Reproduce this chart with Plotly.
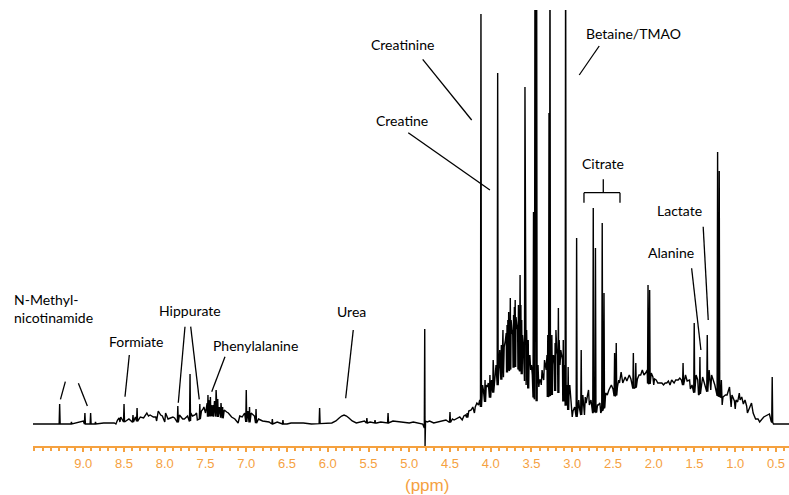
import numpy as np
import plotly.graph_objects as go

# ---------------- data ----------------
# broad baseline / envelope of the spectrum (ppm, intensity)
BASE_PPM = [9.62, 9.30, 9.00, 8.60, 8.55, 8.40, 8.30, 8.20, 8.10, 8.00, 7.90, 7.80,
            7.70, 7.60, 7.50, 7.40, 7.30, 7.20, 7.10, 7.00, 6.90, 6.80, 6.50, 6.20,
            5.95, 5.90, 5.86, 5.83, 5.80, 5.77, 5.74, 5.70, 5.65, 5.40, 5.00, 4.86,
            4.835, 4.815, 4.810, 4.806, 4.800, 4.78, 4.70, 4.55, 4.45, 4.35, 4.28,
            4.20, 4.13, 4.05, 4.00, 3.95, 3.89, 3.83, 3.77, 3.70, 3.65, 3.60, 3.55,
            3.48, 3.40, 3.35, 3.30, 3.25, 3.20, 3.15, 3.10, 3.05, 3.00, 2.95, 2.90,
            2.85, 2.80, 2.75, 2.70, 2.65, 2.60, 2.55, 2.50, 2.45, 2.40, 2.30, 2.20,
            2.10, 2.00, 1.90, 1.80, 1.70, 1.64, 1.55, 1.50, 1.45, 1.40, 1.35, 1.30,
            1.25, 1.18, 1.16, 1.10, 1.05, 1.00, 0.95, 0.90, 0.85, 0.80, 0.75, 0.70,
            0.65, 0.60, 0.56, 0.53, 0.34]
BASE_INT = [1, 1, 1, 1, 3, 3, 4, 3, 4, 3, 2, 3,
            4, 5, 8, 9, 7, 4, 2, 3, 2, 1, 1, 1,
            2, 4, 7, 9, 10, 9, 7, 4, 2, 2, 2, 2,
            1, -3, 96, -21, 4, 3, 2, 2, 3, 5, 8,
            12, 17, 25, 28, 35, 43, 50, 55, 58, 55, 48, 38,
            28, 20, 25, 28, 30, 35, 30, 22, 15, 8, 8, 10,
            10, 12, 12, 13, 12, 18, 25, 28, 30, 32, 35, 38,
            42, 40, 35, 36, 38, 40, 36, 32, 30, 33, 33, 35,
            30, 28, 20, 20, 18, 16, 14, 15, 12, 10, 6, 3,
            4, 6, 4, 1, 1]

# sharp resonances (ppm, apex intensity); values above the frame are clipped
PEAK_PPM = [9.29, 9.145, 8.98, 8.91, 8.85, 8.50, 8.39, 8.34, 7.84, 7.69, 7.57, 7.47,
            7.44, 7.41, 7.37, 7.35, 7.31, 7.29, 7.00, 6.96, 6.88, 6.68, 6.55, 6.10,
            5.52, 5.42, 5.26, 4.50, 4.29, 4.12, 4.07, 4.01, 3.97, 3.915, 3.87, 3.85,
            3.80, 3.78, 3.76, 3.72, 3.70, 3.66, 3.64, 3.62, 3.58, 3.56, 3.54, 3.475,
            3.457, 3.437, 3.30, 3.285, 3.273, 3.25, 3.21, 3.17, 3.11, 3.081, 3.05,
            2.946, 2.89, 2.742, 2.715, 2.632, 2.61, 2.48, 2.46, 2.25, 2.22, 2.07,
            2.05, 1.64, 1.503, 1.433, 1.343, 1.216, 1.196, 0.546]
PEAK_INT = [21, 3, 12, 12, 3, 21, 10, 17, 19, 51, 21, 30,
            28, 20, 35, 26, 22, 18, 35, 18, 16, 6, 5, 17,
            7, 5, 12, 13, 12, 411, 45, 50, 65, 352, 80, 95,
            100, 113, 127, 110, 125, 120, 150, 105, 338, 95, 85, 213,
            500, 500, 90, 312, 500, 90, 82, 117, 85, 500, 58,
            187, 75, 217, 177, 202, 132, 72, 82, 72, 62, 140,
            135, 62, 102, 68, 90, 273, 254, 48]

# small overlapping signals that make up the jagged texture of the trace
MINOR_PPM = [9.00, 8.75, 8.62, 8.58, 8.56, 8.54, 8.47, 8.44, 8.36, 8.30, 8.26, 8.22,
             8.20, 8.18, 8.14, 8.11, 8.08, 8.05, 8.03, 7.99, 7.96, 7.93, 7.90, 7.88,
             7.82, 7.80, 7.78, 7.76, 7.72, 7.68, 7.66, 7.63, 7.61, 7.55, 7.53, 7.52,
             7.50, 7.48, 7.46, 7.43, 7.39, 7.33, 7.27, 7.26, 7.24, 7.22, 7.20, 7.18,
             7.14, 7.08, 7.05, 7.02, 6.98, 6.94, 6.92, 6.90, 6.85, 6.80, 6.72, 6.62,
             6.45, 6.30, 5.55, 5.48, 5.35, 5.20, 5.10, 4.95, 4.75, 4.66, 4.60, 4.55,
             4.47, 4.45, 4.42, 4.40, 4.38, 4.33, 4.31, 4.27, 4.24, 4.22, 4.19, 4.17,
             4.15, 4.135, 4.10, 4.09, 4.055, 4.04, 4.03, 3.99, 3.965, 3.95, 3.935, 3.90,
             3.89, 3.875, 3.86, 3.835, 3.82, 3.81, 3.79, 3.77, 3.75, 3.74, 3.73, 3.71,
             3.69, 3.68, 3.67, 3.65, 3.63, 3.61, 3.60, 3.57, 3.55, 3.53, 3.52, 3.51,
             3.50, 3.49, 3.43, 3.42, 3.41, 3.40, 3.39, 3.38, 3.37, 3.36, 3.35, 3.34,
             3.33, 3.32, 3.31, 3.26, 3.24, 3.23, 3.22, 3.20, 3.19, 3.18, 3.16, 3.15,
             3.14, 3.13, 3.12, 3.10, 3.09, 3.06, 3.04, 3.03, 3.02, 2.99, 2.97, 2.93,
             2.92, 2.91, 2.87, 2.84, 2.83, 2.80, 2.79, 2.77, 2.76, 2.73, 2.69, 2.68,
             2.66, 2.59, 2.57, 2.55, 2.52, 2.50, 2.445, 2.43, 2.42, 2.40, 2.38, 2.35,
             2.33, 2.30, 2.28, 2.20, 2.18, 2.16, 2.14, 2.12, 2.10, 2.08, 2.03, 2.01,
             1.99, 1.97, 1.95, 1.92, 1.90, 1.88, 1.86, 1.84, 1.82, 1.80, 1.78, 1.75,
             1.73, 1.70, 1.68, 1.66, 1.61, 1.59, 1.56, 1.53, 1.48, 1.46, 1.40, 1.38,
             1.32, 1.31, 1.29, 1.27, 1.25, 1.17, 1.15, 1.12, 1.10, 1.07, 1.06, 1.04,
             1.01, 0.99, 0.97, 0.95, 0.94, 0.92, 0.90, 0.88, 0.86, 0.82, 0.80, 0.78,
             0.72, 0.65, 0.62, 0.60, 0.58]
MINOR_INT = [4, 2, 2, 5, 7, 8, 4, 6, 8, 8, 7, 12,
             9, 10, 8, 8, 14, 10, 9, 12, 6, 7, 8, 7,
             10, 8, 6, 6, 9, 12, 9, 10, 12, 14, 16, 18,
             12, 22, 25, 20, 24, 18, 15, 14, 13, 12, 10, 8,
             6, 9, 8, 12, 14, 12, 10, 9, 6, 4, 3, 3,
             2, 2, 4, 3, 3, 4, 3, 3, 4, 3, 4, 5,
             6, 5, 6, 7, 8, 9, 10, 14, 15, 18, 18, 22,
             20, 25, 40, 35, 40, 38, 42, 45, 55, 45, 60, 70,
             75, 65, 85, 78, 85, 92, 105, 98, 105, 95, 90, 118,
             108, 100, 95, 110, 120, 90, 80, 75, 70, 65, 70, 55,
             60, 50, 40, 60, 38, 45, 45, 40, 55, 48, 45, 65,
             60, 55, 70, 80, 65, 70, 60, 95, 75, 70, 85, 60,
             75, 70, 65, 55, 60, 40, 30, 40, 25, 14, 18, 20,
             25, 16, 30, 28, 22, 35, 20, 25, 20, 22, 20, 20,
             22, 32, 30, 35, 40, 36, 38, 45, 42, 53, 42, 48,
             44, 50, 46, 46, 50, 50, 55, 50, 52, 55, 52, 48,
             46, 45, 42, 42, 42, 40, 42, 42, 44, 40, 45, 42,
             45, 45, 47, 45, 50, 44, 45, 40, 50, 45, 48, 42,
             55, 45, 50, 45, 40, 45, 28, 30, 30, 38, 25, 30,
             24, 25, 23, 32, 25, 28, 21, 25, 19, 18, 22, 12,
             6, 8, 9, 10, 11]

TICK_VALUES = [9.0, 8.5, 8.0, 7.5, 7.0, 6.5, 6.0, 5.5, 5.0, 4.5, 4.0, 3.5, 3.0,
               2.5, 2.0, 1.5, 1.0, 0.5]

LABEL_TEXT = ["Creatinine", "Creatine", "Betaine/TMAO", "Citrate", "Lactate",
              "Alanine", "Urea", "Phenylalanine", "Hippurate", "Formiate"]

# ---------------- build the spectrum polyline ----------------
# sharp peaks get narrow feet on the local baseline; minor signals are joined
# directly vertex-to-vertex, giving the jagged texture of the trace.
HALF_W = 0.006
bp = np.array(BASE_PPM, float)
bi = np.array(BASE_INT, float)
pp = np.array(PEAK_PPM, float)
pi = np.array(PEAK_INT, float)
mp = np.array(MINOR_PPM, float)
mi = np.array(MINOR_INT, float)
order = np.argsort(bp)
allp = np.concatenate([pp, mp])
keep = np.array([np.all(np.abs(allp - v) > HALF_W * 1.2) or (4.79 < v < 4.84) for v in bp])
xs = list(bp[keep]) + list(mp)
ys = list(bi[keep]) + list(mi)
for p, h in zip(pp, pi):
    b = float(np.interp(p, bp[order], bi[order]))
    xs += [p + HALF_W, p, p - HALF_W]
    ys += [b, h, b]
xs = np.array(xs); ys = np.array(ys)
o = np.argsort(-xs, kind="stable")
xs, ys = xs[o], ys[o]

ORANGE = "#F5A13F"
FONT_LBL = "Lato, 'Open Sans', sans-serif"

fig = go.Figure()
fig.add_trace(go.Scatter(x=xs, y=ys, mode="lines",
                         line=dict(color="black", width=1.4),
                         hoverinfo="skip", showlegend=False))

# ---------------- layout: labels and pointer lines ----------------
LABEL_POS = [(5.081, 381), (5.093, 305), (2.251, 392), (2.619, 262), (1.687, 215),
             (1.793, 173), (5.703, 114), (6.889, 80), (7.691, 115), (8.351, 84)]
for t, (x, y) in zip(LABEL_TEXT, LABEL_POS):
    fig.add_annotation(x=x, y=y, xref="x", yref="y", text=t, showarrow=False,
                       font=dict(family=FONT_LBL, size=14, color="black"),
                       xanchor="center", yanchor="middle")
fig.add_annotation(x=(12 - 33) / 756, y=(446 - 308) / 436, xref="paper", yref="paper",
                   text="N-Methyl-<br>nicotinamide", showarrow=False, align="left",
                   font=dict(family=FONT_LBL, size=14, color="black"),
                   xanchor="left", yanchor="middle")

POINTERS = [((4.835, 365.7), (4.234, 305)),
            ((5.012, 292.3), (4.010, 235)),
            ((2.669, 379), (2.914, 350)),
            ((1.393, 198.3), (1.331, 105)),
            ((1.535, 156.7), (1.421, 75)),
            ((5.687, 95), (5.780, 26.7)),
            ((7.261, 68.3), (7.424, 33.3)),
            ((7.752, 98.3), (7.834, 22.3)),
            ((7.682, 98.3), (7.577, 25.7)),
            ((8.435, 70), (8.488, 28.3)),
            ((9.22, 43.3), (9.28, 25.7)),
            ((9.06, 41.7), (8.95, 19)),
            # citrate bracket
            ((2.619, 245.7), (2.619, 232.3)),
            ((2.856, 232.3), (2.414, 232.3)),
            ((2.856, 232.3), (2.856, 222.3)),
            ((2.414, 232.3), (2.414, 222.3))]
for (x0, y0), (x1, y1) in POINTERS:
    fig.add_shape(type="line", x0=x0, y0=y0, x1=x1, y1=y1, xref="x", yref="y",
                  line=dict(color="black", width=1.3))

fig.add_annotation(x=(427 - 33) / 756, y=(446 - 485) / 436, xref="paper", yref="paper",
                   text="(ppm)", showarrow=False,
                   font=dict(family="Liberation Sans, Arial, sans-serif", size=17, color=ORANGE),
                   xanchor="center", yanchor="middle")

fig.update_layout(
    width=789, height=495,
    margin=dict(l=33, r=0, t=10, b=49),
    paper_bgcolor="white", plot_bgcolor="white",
    showlegend=False,
    xaxis=dict(range=[9.617, 0.34], showgrid=False, zeroline=False,
               showline=True, linecolor=ORANGE, linewidth=2,
               tickmode="array", tickvals=TICK_VALUES,
               ticktext=[f"{v:.1f}" for v in TICK_VALUES],
               ticks="outside", ticklen=4, tickwidth=2, tickcolor=ORANGE,
               minor=dict(dtick=0.1, tick0=0, ticks="outside", ticklen=3,
                          tickwidth=1.5, tickcolor=ORANGE),
               tickfont=dict(family="Liberation Sans, Arial, sans-serif", size=13, color=ORANGE)),
    yaxis=dict(range=[-21, 415], visible=False, showgrid=False, zeroline=False),
)

fig.write_html("out.html")
